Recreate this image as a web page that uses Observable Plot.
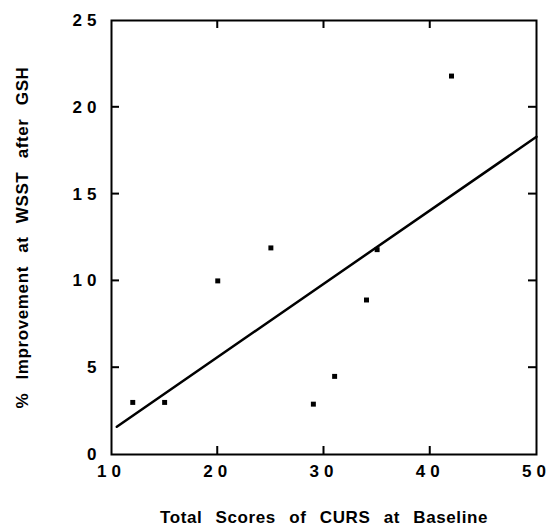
<!DOCTYPE html>
<html>
<head>
<meta charset="utf-8">
<script src="https://cdn.jsdelivr.net/npm/d3@7"></script>
<script src="https://cdn.jsdelivr.net/npm/@observablehq/plot@0.6"></script>
<style>
  html, body { margin: 0; padding: 0; background: #fff; }
  #chart svg text { font-family: "Liberation Sans", Arial, sans-serif; font-weight: bold; }
  .tk text { letter-spacing: 5px; }
  .lbl text { word-spacing: 8px; letter-spacing: 0.6px; }
</style>
</head>
<body>
<div id="chart"></div>
<script>
// Data
const curs = [12, 15, 20, 25, 29, 31, 34, 35, 42];
const improvement = [3, 3, 10, 11.9, 2.9, 4.5, 8.9, 11.8, 21.8];
// Fitted regression line end points (as drawn)
const fitX = [10.5, 50];
const fitY = [1.6, 18.3];
const xTicks = [10, 20, 30, 40, 50];
const yTicks = [0, 5, 10, 15, 20, 25];
const xInner = [20, 30, 40];
const yInner = [5, 10, 15, 20];

const xDomain = [10, 50], yDomain = [0, 25];
const points = curs.map((x, i) => ({x, y: improvement[i]}));
const fit = fitX.map((x, i) => ({x, y: fitY[i]}));

const W = 559, H = 531, ML = 111, MR = 23, MT = 20, MB = 77;
const PW = W - ML - MR, PH = H - MT - MB, TL = 8, TW = 2;
// tick length / width expressed in data units of each scale
const uy = (yDomain[1] - yDomain[0]) / PH;
const ux = (xDomain[1] - xDomain[0]) / PW;

const tickRects = [
  ...xInner.map(x => ({x1: x - TW / 2 * ux, x2: x + TW / 2 * ux, y1: yDomain[0], y2: yDomain[0] + TL * uy})),
  ...xInner.map(x => ({x1: x - TW / 2 * ux, x2: x + TW / 2 * ux, y1: yDomain[1] - TL * uy, y2: yDomain[1]})),
  ...yInner.map(y => ({y1: y - TW / 2 * uy, y2: y + TW / 2 * uy, x1: xDomain[0], x2: xDomain[0] + TL * ux})),
  ...yInner.map(y => ({y1: y - TW / 2 * uy, y2: y + TW / 2 * uy, x1: xDomain[1] - TL * ux, x2: xDomain[1]}))
];

const chart = Plot.plot({
  width: W,
  height: H,
  marginLeft: ML,
  marginRight: MR,
  marginTop: MT,
  marginBottom: MB,
  style: {fontSize: "17px", color: "#000", background: "#fff"},
  x: {domain: xDomain},
  y: {domain: yDomain},
  marks: [
    Plot.frame({stroke: "#000", strokeWidth: 2}),
    // inward ticks on all four sides, drawn as thin filled rectangles
    Plot.rect(tickRects, {x1: "x1", x2: "x2", y1: "y1", y2: "y2", fill: "#000"}),
    // labelled axes
    Plot.axisX({anchor: "bottom", ticks: xTicks, tickSize: 0, tickPadding: 10, className: "tk",
      label: "Total Scores of CURS at Baseline", labelAnchor: "center", labelOffset: 68, labelArrow: "none"}),
    Plot.axisY({anchor: "left", ticks: yTicks, tickSize: 0, tickPadding: 10, className: "tk",
      label: "% Improvement at WSST after GSH", labelAnchor: "center", labelOffset: 96, labelArrow: "none"}),
    Plot.line(fit, {x: "x", y: "y", stroke: "#000", strokeWidth: 2.5}),
    Plot.dot(points, {x: "x", y: "y", symbol: "square", r: 2.8, fill: "#000", stroke: "none"})
  ]
});
chart.querySelectorAll("g[aria-label='x-axis label'], g[aria-label='y-axis label']").forEach(g => g.classList.add("lbl"));
document.getElementById("chart").appendChild(chart);
</script>
</body>
</html>
